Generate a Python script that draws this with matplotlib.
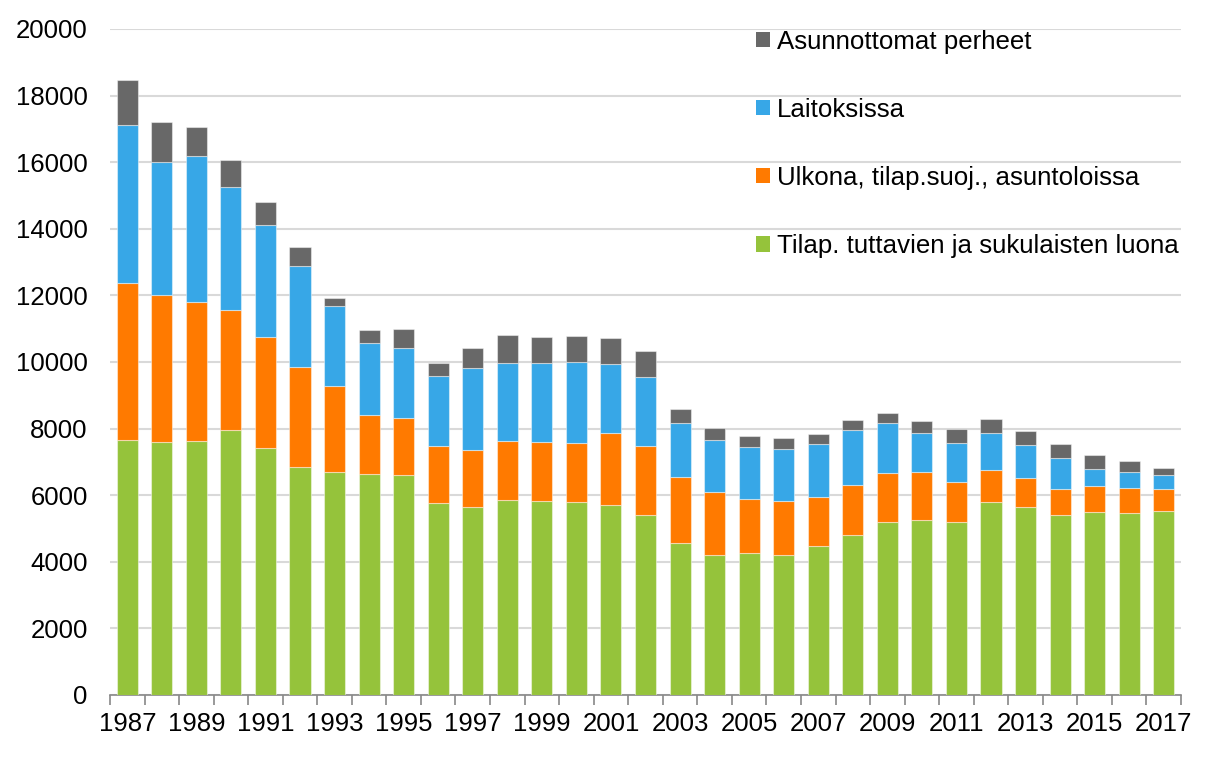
import numpy as np
import matplotlib.pyplot as plt
from matplotlib.patches import Patch

plt.rcParams['font.family'] = ['Liberation Sans', 'DejaVu Sans']

years = list(range(1987, 2018))

# Tilap. tuttavien ja sukulaisten luona
green = [7670, 7610, 7640, 7960, 7410, 6840, 6710, 6640, 6620, 5780,
         5650, 5870, 5840, 5790, 5720, 5420, 4560, 4210, 4270, 4190,
         4470, 4810, 5210, 5270, 5190, 5810, 5650, 5410, 5510, 5470, 5530]
# Ulkona, tilap.suoj., asuntoloissa
orange = [4690, 4400, 4150, 3610, 3350, 3020, 2560, 1770, 1710, 1710,
          1720, 1760, 1750, 1780, 2150, 2050, 1990, 1880, 1610, 1650,
          1480, 1510, 1460, 1420, 1220, 960, 860, 770, 760, 750, 660]
# Laitoksissa
blue = [4750, 3990, 4400, 3680, 3350, 3020, 2410, 2160, 2100, 2100,
        2440, 2350, 2390, 2420, 2080, 2070, 1630, 1560, 1560, 1560,
        1590, 1640, 1490, 1190, 1160, 1090, 1000, 930, 520, 490, 420]
# Asunnottomat perheet
grey = [1360, 1200, 870, 810, 690, 570, 250, 380, 570, 380,
        600, 820, 780, 780, 770, 780, 420, 370, 350, 310,
        300, 300, 310, 350, 430, 440, 420, 430, 420, 320, 220]

labels = ['Tilap. tuttavien ja sukulaisten luona',
          'Ulkona, tilap.suoj., asuntoloissa',
          'Laitoksissa',
          'Asunnottomat perheet']
colors = ['#95c33b', '#ff7a00', '#37a7e7', '#686868']
series = [green, orange, blue, grey]

fig = plt.figure(figsize=(12.29, 7.59), dpi=100)
ax = fig.add_axes([110/1229, 64/759, 1071/1229, 666/759])

x = np.arange(len(years))
bottom = np.zeros(len(years))
for vals, col in zip(series, colors):
    ax.bar(x, vals, bottom=bottom, width=0.61, color=col,
           edgecolor=(1, 1, 1, 0.45), linewidth=0.8, zorder=3)
    bottom += np.array(vals)

ax.set_xlim(-0.5, len(years) - 0.5)
ax.set_ylim(0, 20000)
ax.set_yticks(range(0, 20001, 2000))
ax.grid(axis='y', color='#d9d9d9', linewidth=1.5, zorder=0)
ax.tick_params(axis='y', length=0, pad=16, labelsize=18.5)

# ticks at category boundaries, labels at every other year
ax.set_xticks(np.arange(-0.5, len(years), 1.0))
ax.set_xticklabels([])
ax.set_xticks(x[::2], minor=True)
ax.set_xticklabels([str(y) for y in years[::2]], minor=True)
ax.tick_params(axis='x', which='major', length=7, width=1.2, color='#888888')
ax.tick_params(axis='x', which='minor', length=0, pad=12.5, labelsize=18.5)

for s in ['left', 'right', 'top']:
    ax.spines[s].set_visible(False)
ax.spines['bottom'].set_color('#888888')
ax.spines['bottom'].set_linewidth(1.2)

handles = [Patch(facecolor=c, edgecolor='none') for c in colors]
ax.legend(handles[::-1], labels[::-1], loc='upper left',
          bbox_to_anchor=(756/1229, 1 - 29.5/759), bbox_transform=fig.transFigure,
          frameon=False, fontsize=18.6, handlelength=0.54, handleheight=0.54,
          handletextpad=0.27, labelspacing=1.71, borderpad=0, borderaxespad=0)

fig.savefig('out.png', dpi=100)
